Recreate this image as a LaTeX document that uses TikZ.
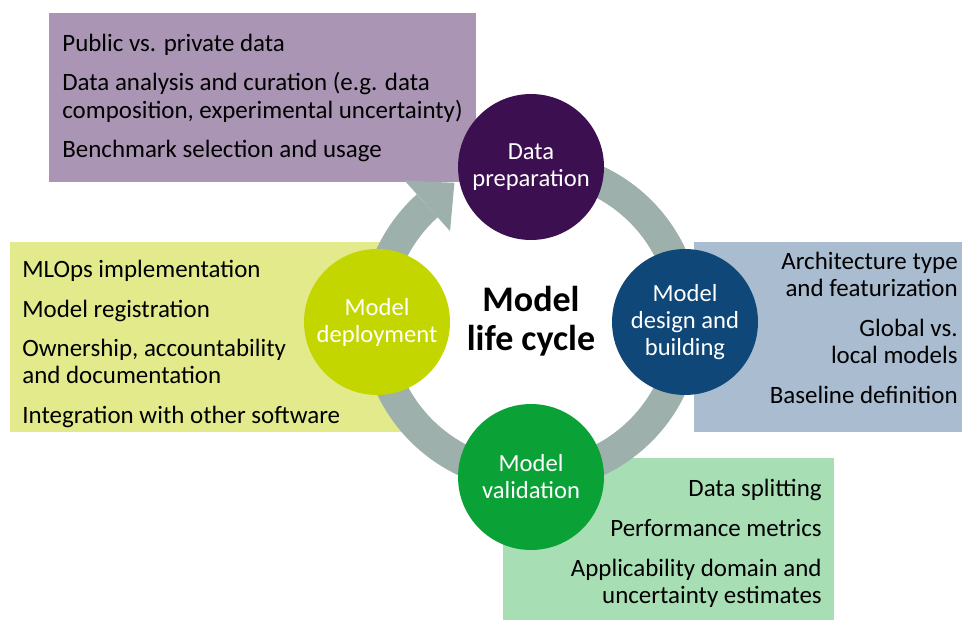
\documentclass[tikz,border=0pt]{standalone}
\usepackage{fontspec}
\setmainfont{Carlito}
\usetikzlibrary{calc}
\definecolor{prepfill}{HTML}{3C0F50}
\definecolor{designfill}{HTML}{0E4778}
\definecolor{validfill}{HTML}{0AA137}
\definecolor{deployfill}{HTML}{C4D600}
\definecolor{prepbox}{HTML}{AA96B4}
\definecolor{designbox}{HTML}{AABCD0}
\definecolor{validbox}{HTML}{A8DEB4}
\definecolor{deploybox}{HTML}{E2EA8C}
\definecolor{ringgray}{HTML}{9DB0AC}
\tikzset{
  stage/.style={circle, minimum size=2.92cm, inner sep=0pt, text=white,
    align=center, font=\fontsize{14}{15.4}\selectfont},
  notes/.style={inner sep=0pt, font=\fontsize{14.2}{15.4}\selectfont}
}
\begin{document}
\begin{tikzpicture}[x=0.02cm, y=0.02cm]
    \useasboundingbox (0,0) rectangle (962,620);
    %% Draw the boxes
    \fill[prepbox] (49,438) rectangle (476,607);
    \fill[deploybox] (10,188) rectangle (405,378);
    \fill[designbox] (694,188) rectangle (962,378);
    \fill[validbox] (503,0) rectangle (834,162);
    %% Draw the cycle arrow
    \coordinate (hub) at (531,299);
    \draw[ringgray, line width=0.62cm] (hub) ++(80:155) arc[start angle=80, end angle=-228, radius=155];
    \fill[ringgray] ($(hub)+(132:189)$) -- ($(hub)+(119:158)$) -- ($(hub)+(132:121)$) -- cycle;
    %% Draw the stages
    \node[stage, fill=prepfill] (prep) at (531,453) {Data\\preparation};
    \node[stage, fill=designfill] (design) at (685,298) {Model\\design and\\building};
    \node[stage, fill=validfill] (valid) at (531,143) {Model\\validation};
    \node[stage, fill=deployfill] (deploy) at (377,298) {Model\\deployment};
    \node[font=\fontsize{20.5}{22.5}\selectfont\bfseries, align=center] (title) at (hub) {Model\\life cycle};
    %% Draw the notes
    \node[notes, anchor=west, align=left] (prepnotes) at (62,522) {Public vs. private data\\[7.3pt]
      Data analysis and curation (e.g. data\\composition, experimental uncertainty)\\[7.3pt]
      Benchmark selection and usage};
    \node[notes, anchor=west, align=left] (deploynotes) at (22,276) {MLOps implementation\\[7.3pt]
      Model registration\\[7.3pt]
      Ownership, accountability\\and documentation\\[7.3pt]
      Integration with other software};
    \node[notes, anchor=east, align=right] (designnotes) at (958,292) {Architecture type\\and featurization\\[7.3pt]
      Global vs.\\local models\\[7.3pt]
      Baseline definition};
    \node[notes, anchor=east, align=right] (validnotes) at (822,77) {Data splitting\\[7.3pt]
      Performance metrics\\[7.3pt]
      Applicability domain and\\uncertainty estimates};
  \end{tikzpicture}
\end{document}
